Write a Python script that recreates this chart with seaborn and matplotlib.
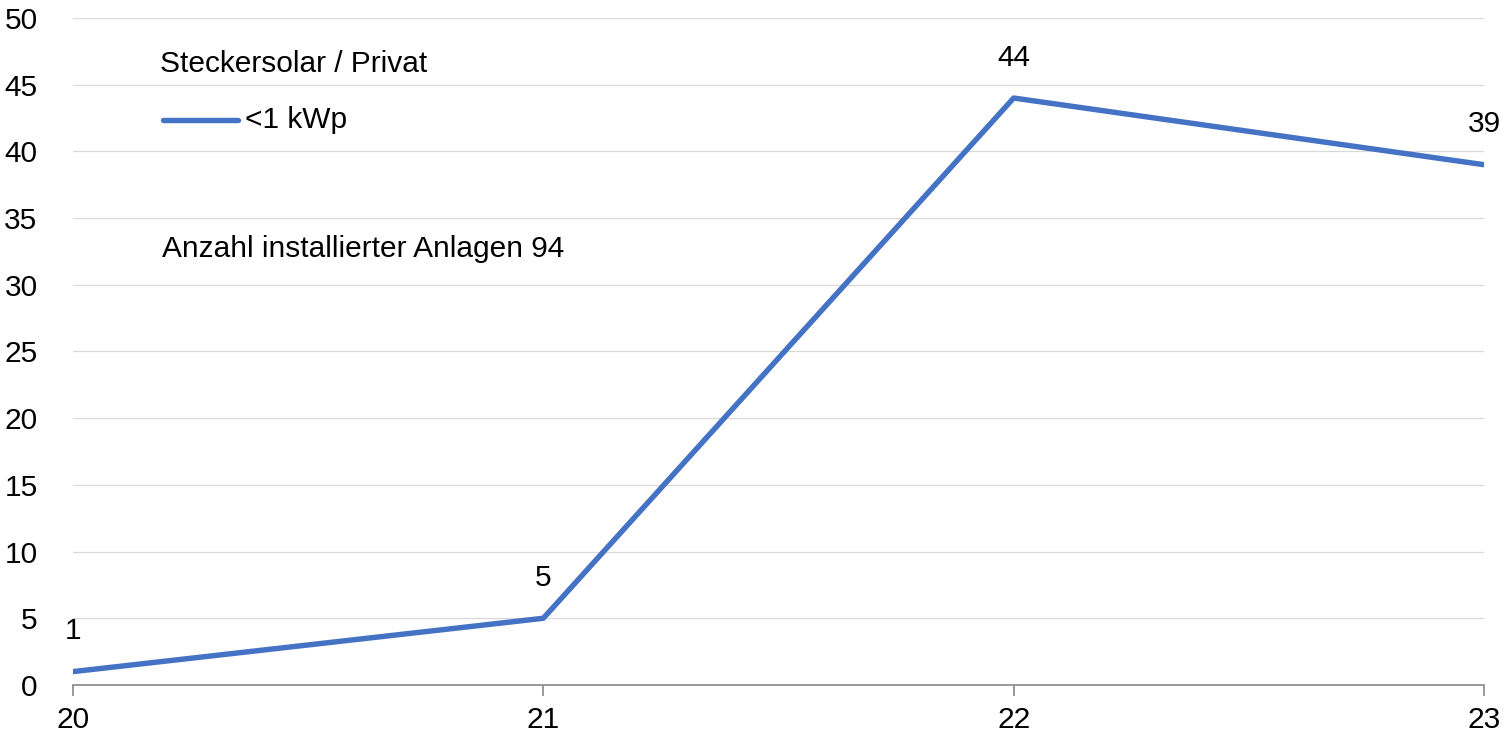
import matplotlib
matplotlib.use("Agg")
import matplotlib.pyplot as plt
import seaborn as sns
import pandas as pd

years = [20, 21, 22, 23]
values = [1, 5, 44, 39]
series_name = "<1 kWp"
legend_title = "Steckersolar / Privat"
note = "Anzahl installierter Anlagen 94"
yticks = list(range(0, 55, 5))

sns.set_theme(style="white")
plt.rcParams['font.family'] = ['Liberation Sans', 'DejaVu Sans']

df = pd.DataFrame({"year": years, "value": values, "series": series_name})

fig = plt.figure(figsize=(15.1, 7.37), dpi=100)
ax = fig.add_axes([0.0483, 0.0706, 0.9345, 0.905])
color = "#4472C4"
sns.lineplot(data=df, x="year", y="value", ax=ax, color=color, linewidth=3.9, legend=False)

ax.set_xlim(years[0], years[-1])
ax.set_ylim(0, 50)
ax.set_yticks(yticks)
ax.set_xticks(years)
ax.set_xticklabels([str(y) for y in years])
ax.set_xlabel("")
ax.set_ylabel("")
ax.grid(axis="y", color="#d9d9d9", linewidth=0.9)
ax.set_axisbelow(True)
for s in ["top", "right", "left"]:
    ax.spines[s].set_visible(False)
ax.spines["bottom"].set_color("#888888")
ax.spines["bottom"].set_linewidth(1.2)
ax.tick_params(axis="x", bottom=True, length=8, width=1.2, color="#888888", labelsize=21.5, pad=7, labelcolor="black")
ax.tick_params(axis="y", left=False, labelsize=21.5, pad=19.5, labelcolor="black")

for x, v in zip(years, values):
    ax.annotate(str(v), (x, v), xytext=(0, 29), textcoords="offset points",
                ha="center", va="center", fontsize=21.5, color="black", clip_on=False)

# legend-like block
fig.text(160/1510, 1-64/737, legend_title, fontsize=21.5, va="center", ha="left", color="black")
fig.add_artist(plt.Line2D([163/1510, 238/1510], [1-120/737, 1-120/737], color=color, linewidth=3.9, solid_capstyle="round"))
fig.text(245/1510, 1-120/737, series_name, fontsize=21.5, va="center", ha="left", color="black")
fig.text(162/1510, 1-249/737, note, fontsize=21.5, va="center", ha="left", color="black")

fig.savefig("out.png", dpi=100)
